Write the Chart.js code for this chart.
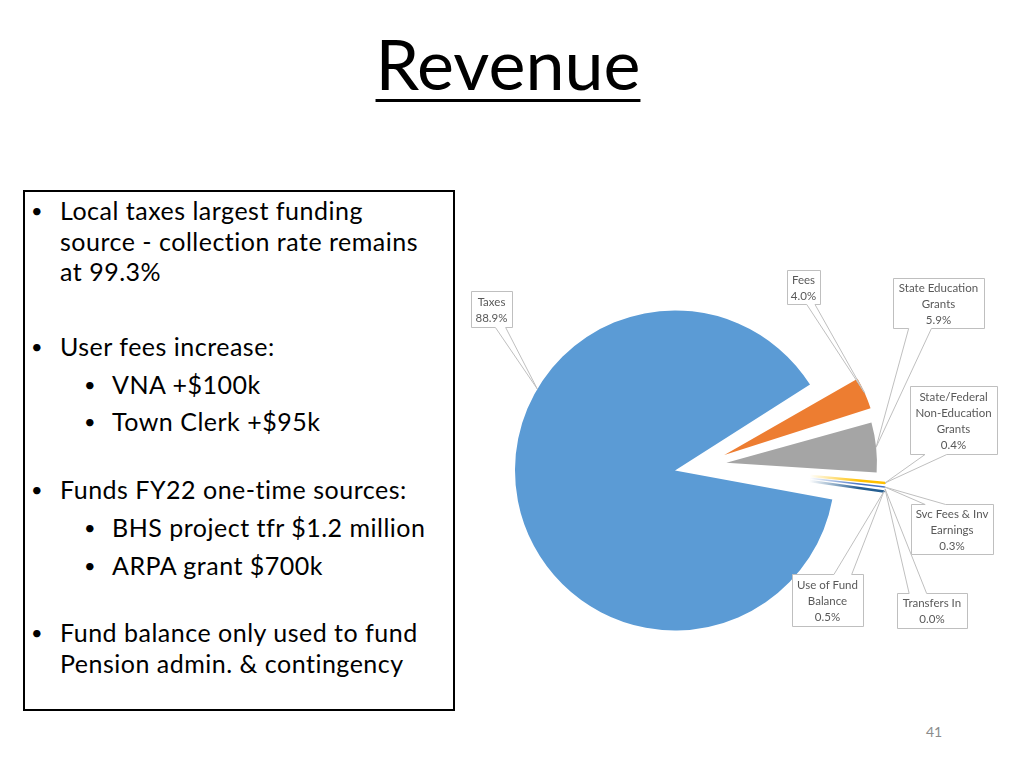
<!DOCTYPE html>
<html>
<head>
<meta charset="utf-8">
<script src="https://cdn.jsdelivr.net/npm/chart.js@4.4.0/dist/chart.umd.min.js"></script>
<style>
  html, body { margin: 0; padding: 0; background: #fff; }
  body { width: 1024px; height: 768px; position: relative; overflow: hidden; font-family: Lato, "Open Sans", sans-serif; color: #000; }
  #title { position: absolute; left: 0; width: 1016px; top: 18px; text-align: center; font-size: 70px; line-height: 90px;
           text-decoration: underline; text-decoration-thickness: 3px; text-underline-offset: 9px; }
  #notes { position: absolute; left: 23px; top: 190px; width: 428px; height: 517px; border: 2.5px solid #000; }
  .item { position: absolute; left: 37px; font-size: 25px; letter-spacing: 0.5px; line-height: 30.5px; white-space: nowrap; }
  .item .dot { position: absolute; left: -8px; width: 16px; text-align: center; font-size: 20px; }
  .item .txt { position: absolute; left: 23px; }
  .sub { left: 90px; }
  .sub .txt { left: 22px; }
  #pie { position: absolute; left: 460px; top: 260px; }
  #page { position: absolute; left: 920px; top: 723px; width: 28px; text-align: center; font-size: 14px; color: #8c8c8c; }
</style>
</head>
<body>
<div id="title">Revenue</div>
<div id="notes"></div>
<div class="item" style="top:195px"><span class="dot">•</span><span class="txt">Local taxes largest funding<br>source - collection rate remains<br>at 99.3%</span></div>
<div class="item" style="top:331px"><span class="dot">•</span><span class="txt">User fees increase:</span></div>
<div class="item sub" style="top:369px"><span class="dot">•</span><span class="txt">VNA +$100k</span></div>
<div class="item sub" style="top:406px"><span class="dot">•</span><span class="txt">Town Clerk +$95k</span></div>
<div class="item" style="top:474px"><span class="dot">•</span><span class="txt">Funds FY22 one-time sources:</span></div>
<div class="item sub" style="top:512px"><span class="dot">•</span><span class="txt">BHS project tfr $1.2 million</span></div>
<div class="item sub" style="top:550px"><span class="dot">•</span><span class="txt">ARPA grant $700k</span></div>
<div class="item" style="top:617px"><span class="dot">•</span><span class="txt">Fund balance only used to fund<br>Pension admin. &amp; contingency</span></div>
<canvas id="pie" width="560" height="411"></canvas>
<div id="page">41</div>
<script>
// Revenue sources, share of total (%)
const categories = [
  ['Taxes'],
  ['Fees'],
  ['State Education', 'Grants'],
  ['State/Federal', 'Non-Education', 'Grants'],
  ['Svc Fees & Inv', 'Earnings'],
  ['Transfers In'],
  ['Use of Fund', 'Balance'],
];
const shares = [88.9, 4.0, 5.9, 0.4, 0.3, 0.0, 0.5];
const colors = ['#5B9BD5', '#ED7D31', '#A5A5A5', '#FFC000', '#4472C4', '#70AD47', '#255E91'];

// callout boxes (canvas px) and where on the slice edge the pointer lands (0..1)
const callouts = [
  { x: 11, y: 31, w: 41, h: 36, at: 0.63 },
  { x: 327, y: 10, w: 33, h: 34, at: 0.5 },
  { x: 433, y: 18, w: 91, h: 50, at: 0.5 },
  { x: 450, y: 126, w: 87, h: 68, at: 0.5 },
  { x: 451, y: 244, w: 82, h: 50, at: 0.5 },
  { x: 437, y: 333, w: 70, h: 35, at: 0.5 },
  { x: 332, y: 314, w: 71, h: 52, at: 0.5 },
];

// rectangle with a wedge pointing at (ax, ay), like the office data callout
const calloutPath = (ctx, x, y, w, h, ax, ay) => {
  const dx = (ax - (x + w / 2)) / w;
  const dy = (ay - (y + h / 2)) / h;
  const vert = Math.abs(dy) >= Math.abs(dx);
  const fx = dx < 0 ? [2, 5] : [7, 10];
  const fy = dy < 0 ? [2, 5] : [7, 10];
  ctx.beginPath();
  ctx.moveTo(x, y);
  if (vert && dy < 0) {
    ctx.lineTo(x + w * fx[0] / 12, y); ctx.lineTo(ax, ay); ctx.lineTo(x + w * fx[1] / 12, y);
  }
  ctx.lineTo(x + w, y);
  if (!vert && dx > 0) {
    ctx.lineTo(x + w, y + h * fy[0] / 12); ctx.lineTo(ax, ay); ctx.lineTo(x + w, y + h * fy[1] / 12);
  }
  ctx.lineTo(x + w, y + h);
  if (vert && dy > 0) {
    ctx.lineTo(x + w * fx[1] / 12, y + h); ctx.lineTo(ax, ay); ctx.lineTo(x + w * fx[0] / 12, y + h);
  }
  ctx.lineTo(x, y + h);
  if (!vert && dx < 0) {
    ctx.lineTo(x, y + h * fy[1] / 12); ctx.lineTo(ax, ay); ctx.lineTo(x, y + h * fy[0] / 12);
  }
  ctx.closePath();
};

const calloutPlugin = {
  id: 'callouts',
  afterDatasetsDraw(chart) {
    const ctx = chart.ctx;
    const meta = chart.getDatasetMeta(0);
    ctx.save();
    meta.data.forEach((arc, i) => {
      const c = callouts[i];
      // same geometry the arc element uses when it draws an offset slice
      const off = (arc.options.offset || 0) / 4;
      const circ = arc.endAngle - arc.startAngle;
      const r = arc.outerRadius + off * (1 - Math.sin(Math.min(Math.PI, circ)));
      const mid = (arc.startAngle + arc.endAngle) / 2;
      const a = arc.startAngle + circ * c.at;
      const ax = arc.x + Math.cos(mid) * off + Math.cos(a) * r;
      const ay = arc.y + Math.sin(mid) * off + Math.sin(a) * r;

      calloutPath(ctx, c.x + 0.5, c.y + 0.5, c.w, c.h, ax, ay);
      ctx.fillStyle = '#fff';
      ctx.fill();
      ctx.strokeStyle = '#BFBFBF';
      ctx.lineWidth = 1;
      ctx.stroke();

      const lines = [...chart.data.labels[i], shares[i].toFixed(1) + '%'];
      ctx.fillStyle = '#595959';
      ctx.font = '11.5px Lato, "Open Sans", sans-serif';
      ctx.textAlign = 'center';
      ctx.textBaseline = 'middle';
      const top = c.y + c.h / 2 - (lines.length - 1) * 8;
      lines.forEach((t, k) => ctx.fillText(t, c.x + c.w / 2, top + k * 16 + 1));
    });
    ctx.restore();
  },
};

// the hair-thin slices lose their whole width to the explode gap, so they get an
// outline that fades in towards the rim, the way a very narrow wedge looks
const thinEdge = (c) => {
  const col = colors[c.dataIndex];
  const area = c.chart.chartArea;
  if (!area || c.dataIndex < 3) return col;
  const cx = (area.left + area.right) / 2;
  const cy = (area.top + area.bottom) / 2;
  const g = c.chart.ctx.createRadialGradient(cx, cy, 0, cx, cy, 186);
  g.addColorStop(0, col + '00');
  g.addColorStop(0.45, col + '00');
  g.addColorStop(0.72, col);
  g.addColorStop(1, col);
  return g;
};

new Chart(document.getElementById('pie'), {
  type: 'pie',
  data: {
    labels: categories,
    datasets: [{
      data: shares,
      backgroundColor: colors,
      borderColor: thinEdge,
      borderWidth: [0, 0, 0, 2.5, 1.5, 0, 2.5],
      offset: 104,
      hoverOffset: 0,
    }],
  },
  options: {
    responsive: false,
    animation: false,
    events: [],
    rotation: 99,
    radius: 134,
    layout: { padding: { right: 79 } },
    plugins: {
      legend: { display: false },
      tooltip: { enabled: false },
    },
  },
  plugins: [calloutPlugin],
});
</script>
</body>
</html>
